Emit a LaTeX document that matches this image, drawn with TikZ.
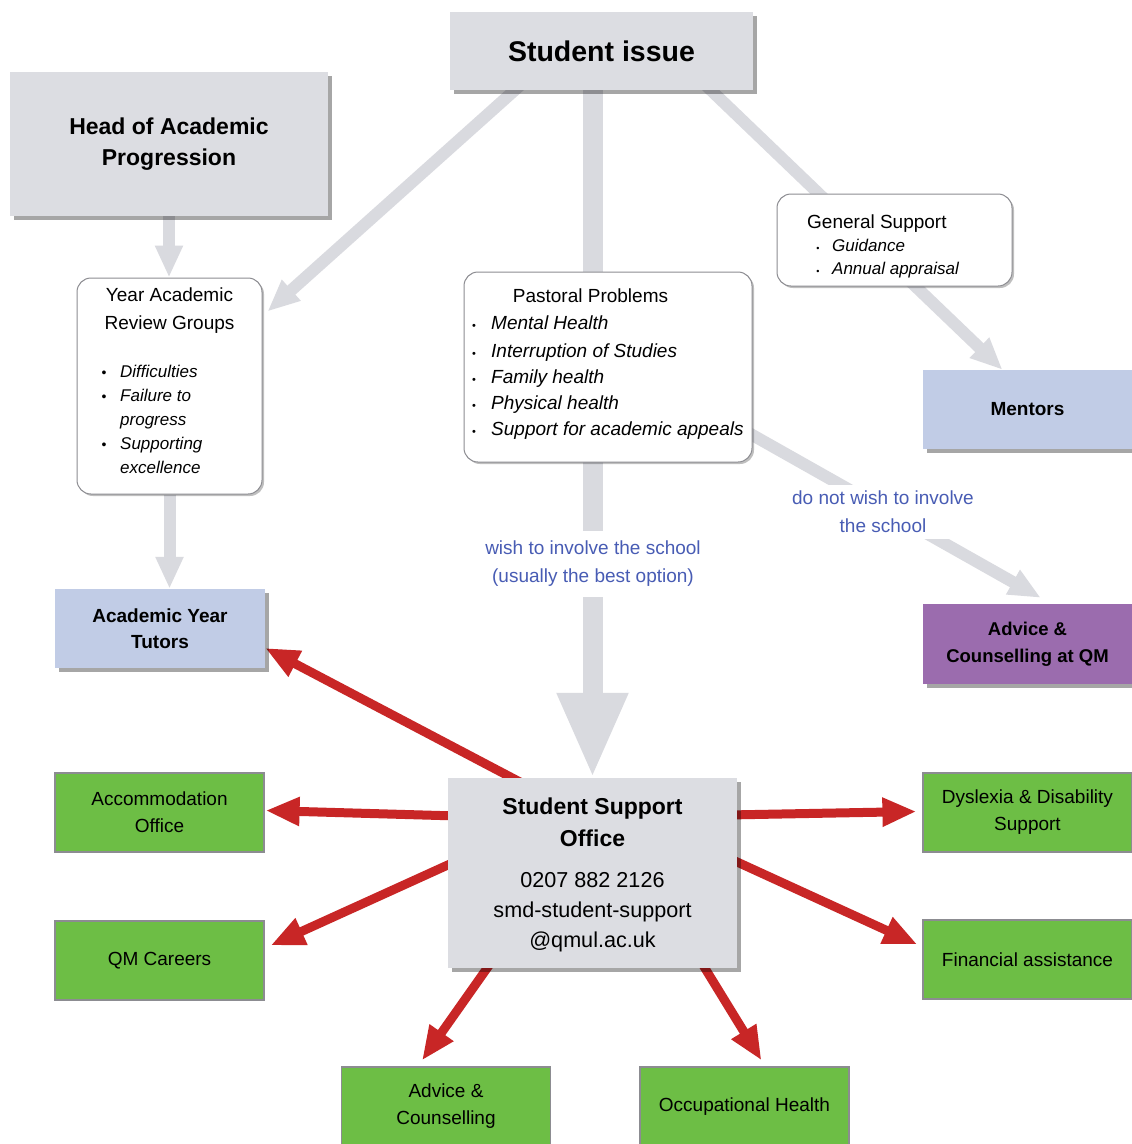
\documentclass[tikz,border=0pt]{standalone}
\usepackage{fontspec}
\setmainfont{Liberation Sans}
\usetikzlibrary{arrows.meta,shadows,calc}
\definecolor{boxgrey}{RGB}{220,221,226}
\definecolor{arrgrey}{RGB}{217,218,223}
\definecolor{lblue}{RGB}{193,204,230}
\definecolor{qmpurple}{RGB}{155,108,174}
\definecolor{qmgreen}{RGB}{109,190,69}
\definecolor{qmred}{RGB}{200,38,38}
\definecolor{lblblue}{RGB}{72,92,180}
\definecolor{bordergrey}{RGB}{140,140,145}
\newcommand{\myfs}[2]{\fontsize{#1}{#2}\selectfont}
\pgfdeclarelayer{bg}
\pgfsetlayers{bg,main}
\begin{document}
\begin{tikzpicture}[x=1pt,y=-1pt,
  shadowed/.style={drop shadow={shadow xshift=4pt,shadow yshift=-4pt,fill=black,opacity=0.35}},
  greybox/.style={fill=boxgrey,draw=none,shadowed,inner sep=0pt},
  bluebox/.style={fill=lblue,draw=none,shadowed,inner sep=0pt,align=center,font=\bfseries\myfs{19}{26}},
  purplebox/.style={fill=qmpurple,draw=none,shadowed,inner sep=0pt,align=center},
  greenbox/.style={fill=qmgreen,draw=bordergrey,line width=1.2pt,inner sep=0pt,minimum width=209,minimum height=79,align=center,font=\myfs{19}{27}},
  roundbox/.style={fill=white,draw=bordergrey,line width=1pt,rounded corners=14pt,inner sep=0pt,
     drop shadow={shadow xshift=2pt,shadow yshift=-2pt,fill=black,opacity=0.25}},
  txt/.style={inner sep=0pt,align=center,text=black},
  itm/.style={inner sep=0pt,anchor=base west,font=\myfs{19}{26}\itshape},
  itms/.style={inner sep=0pt,anchor=base west,font=\myfs{17}{24}\itshape},
  bul/.style={inner sep=0pt,anchor=base,font=\myfs{11}{11}},
  lbl/.style={txt,fill=white,text=lblblue,font=\myfs{19}{28}},
  garrow/.style={draw=arrgrey,line width=12pt,-{Triangle[length=32pt 0,width=26pt 0]}},
  gline/.style={draw=arrgrey,line width=12pt},
  bigarrow/.style={draw=arrgrey,line width=20pt,-{Triangle[length=85pt 0,width=66pt 0]}},
  rarrow/.style={draw=qmred,line width=9pt,-{Triangle[length=34pt 0,width=27pt 0]}}
]
\useasboundingbox (0,0) rectangle (1132,1144);

% ---- top boxes
\node[greybox,minimum width=303,minimum height=78,font=\bfseries\myfs{28.5}{34}] (si) at (601.5,51) {Student issue};
\node[greybox,minimum width=318,minimum height=144,align=center,font=\bfseries\myfs{23}{31}] (head) at (169,144) {Head of Academic\\Progression};

% ---- Year Academic Review Groups
\node[roundbox,minimum width=185,minimum height=216] (yarg) at (169.5,386) {};
\node[txt,font=\myfs{19}{28}] (yargt) at (169.5,311) {Year Academic\\Review Groups};
\node[bul,font=\myfs{14}{14}] (yb1) at (104,377) {•};
\node[itms] (yi1) at (120,377) {Difficulties};
\node[bul,font=\myfs{14}{14}] (yb2) at (104,401) {•};
\node[itms] (yi2) at (120,401) {Failure to};
\node[itms] (yi3) at (120,425) {progress};
\node[bul,font=\myfs{14}{14}] (yb3) at (104,449) {•};
\node[itms] (yi4) at (120,449) {Supporting};
\node[itms] (yi5) at (120,473) {excellence};

% ---- Pastoral Problems
\node[roundbox,minimum width=288,minimum height=190] (pp) at (608,367) {};
\node[txt,anchor=base,font=\myfs{19}{26}] (ppt) at (590.5,302) {Pastoral Problems};
\node[bul] (pb1) at (474,329) {•};
\node[itm] (pi1) at (491,329) {Mental Health};
\node[bul] (pb2) at (474,357) {•};
\node[itm] (pi2) at (491,357) {Interruption of Studies};
\node[bul] (pb3) at (474,383) {•};
\node[itm] (pi3) at (491,383) {Family health};
\node[bul] (pb4) at (474,409) {•};
\node[itm] (pi4) at (491,409) {Physical health};
\node[bul] (pb5) at (474,435) {•};
\node[itm] (pi5) at (491,435) {Support for academic appeals};

% ---- General Support
\node[roundbox,minimum width=235,minimum height=92] (gs) at (894.5,240) {};
\node[txt,anchor=base west,font=\myfs{19}{26}] (gst) at (807,228) {General Support};
\node[bul,font=\myfs{9}{9}] (gb1) at (818,251) {•};
\node[itms] (gi1) at (832,251) {Guidance};
\node[bul,font=\myfs{9}{9}] (gb2) at (818,274) {•};
\node[itms] (gi2) at (832,274) {Annual appraisal};

% ---- coloured boxes
\node[bluebox,minimum width=209,minimum height=79] (mentors) at (1027.5,409.5) {Mentors};
\node[purplebox,minimum width=209,minimum height=80,font=\bfseries\myfs{18.5}{27}] (aqm) at (1027.5,644) {Advice \&\\Counselling at QM};
\node[bluebox,minimum width=210,minimum height=79] (ayt) at (160,628.5) {Academic Year\\Tutors};
\node[greenbox] (acc) at (159.5,812.5) {Accommodation\\Office};
\node[greenbox] (qmc) at (159.5,960.5) {QM Careers};
\node[greenbox] (dys) at (1027.5,812.5) {Dyslexia \& Disability\\Support};
\node[greenbox] (fin) at (1027.5,959.5) {Financial assistance};
\node[greenbox] (adv) at (446,1106.5) {Advice \&\\Counselling};
\node[greenbox] (occ) at (744.5,1106.5) {Occupational Health};

% ---- Student Support Office
\node[greybox,minimum width=289,minimum height=190] (sso) at (592.5,873) {};
\node[txt,font=\bfseries\myfs{23}{32}] (ssot) at (592.5,822) {Student Support\\Office};
\node[txt,font=\myfs{21.6}{30}] (ssoc) at (592.5,912) {0207 882 2126\\smd-student-support\\@qmul.ac.uk};

% ---- labels
\node[lbl,inner xsep=3pt,inner ysep=10pt] (lbl1) at (593,564) {wish to involve the school\\(usually the best option)};
\node[lbl,inner sep=6pt] (lbl2) at (883,512) {do not wish to involve\\the school};

% ---- connectors
\begin{pgfonlayer}{bg}
\fill[white] (0,0) rectangle (1132,1144);
\draw[garrow] ($(si.south west)+(85,-18)$) -- ($(yarg.north east)+(5,34)$);
\draw[bigarrow] (si.south -| sso.north) -- (sso.north);
\coordinate (g1) at ($(si.south east)+(-60,-17)$);
\coordinate (g2) at ($(mentors.north)+(-25,0)$);
\draw[gline] (g1) -- ($(g1)!0.5!(g2)$);
\draw[garrow] ($(g1)!0.5!(g2)$) -- (g2);
\draw[garrow] (head.south) -- (head.south |- yarg.north);
\draw[garrow] (yarg.south) -- (yarg.south |- ayt.north);
\draw[garrow] ($(pp.south east)+(-17,-37)$) -- ($(aqm.north west)+(118,-6)$);

\draw[rarrow] ($(sso.north west)+(87,12)$) -- ($(ayt.east)+(0,19.5)$);
\draw[rarrow] ($(sso.west)+(10,-57)$) -- ($(acc.east)+(1,-2)$);
\draw[rarrow] ($(sso.west)+(11,-13)$) -- ($(qmc.east)+(6,-15)$);
\draw[rarrow] ($(sso.east)+(-10,-58)$) -- ($(dys.west)+(-6,-1)$);
\draw[rarrow] ($(sso.east)+(-11,-16)$) -- ($(fin.west)+(-5,-15)$);
\draw[rarrow] ($(sso.south west)+(47,-11)$) -- ($(adv.north)+(-24,-6)$);
\draw[rarrow] ($(sso.south east)+(-39,-11)$) -- ($(occ.north)+(17,-6)$);
\end{pgfonlayer}
\end{tikzpicture}
\end{document}
